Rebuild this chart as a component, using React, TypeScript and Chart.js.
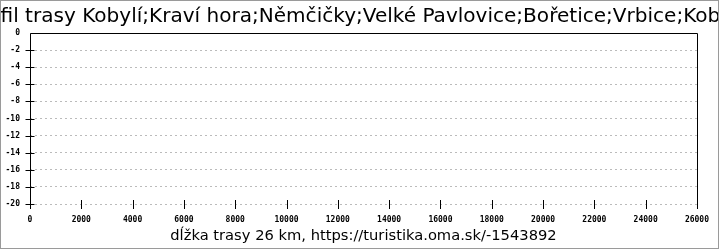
import React, { useEffect, useRef } from "react";
import { Chart, registerables } from "chart.js";

Chart.register(...registerables);

const chartTitle = "Profil trasy Kobylí;Kraví hora;Němčičky;Velké Pavlovice;Bořetice;Vrbice;Kobylí";
const xAxisTitle = "dĺžka trasy 26 km, https://turistika.oma.sk/-1543892";
const distances: number[] = [];
const elevations: number[] = [];
const xMin = 0;
const xMax = 26000;
const xStep = 2000;
const yMin = -20;
const yMax = 0;
const yStep = 2;

const framePlugin = {
  id: "frame",
  afterDraw(chart: any) {
    const { ctx, chartArea, scales } = chart;
    const { left, right, top, bottom } = chartArea;
    ctx.save();
    // title (overflows the frame on both sides, as in the original)
    ctx.save();
    ctx.beginPath();
    ctx.rect(1, 1, 717, 247);
    ctx.clip();
    ctx.fillStyle = "#000";
    ctx.textAlign = "left";
    ctx.textBaseline = "alphabetic";
    ctx.font = "20px 'DejaVu Sans'";
    const visible = chartTitle.slice(3, chartTitle.length - 3);
    const w20 = ctx.measureText(visible).width;
    const size = (20 * 720) / w20;
    ctx.font = `${size}px 'DejaVu Sans'`;
    const pre = ctx.measureText(chartTitle.slice(0, 3)).width;
    ctx.fillText(chartTitle, 0.5 - pre, 22);
    ctx.restore();
    // outer gray border
    ctx.strokeStyle = "#9a9a9a";
    ctx.lineWidth = 1;
    ctx.strokeRect(0.5, 0.5, 718, 248);
    // axis lines
    ctx.strokeStyle = "#000";
    ctx.lineWidth = 1;
    const L = Math.round(left) + 0.5;
    const R = Math.round(right) + 0.5;
    const T = Math.round(top) + 0.5;
    const B = Math.round(bottom);
    ctx.beginPath();
    ctx.moveTo(L, T);
    ctx.lineTo(R, T);
    ctx.moveTo(L, T);
    ctx.lineTo(L, B + 5);
    ctx.moveTo(R, T);
    ctx.lineTo(R, B + 5);
    scales.y.ticks.forEach((t: any) => {
      if (t.value === yMax) return;
      const py = Math.round(scales.y.getPixelForValue(t.value)) + 0.5;
      ctx.moveTo(L - 5, py);
      ctx.lineTo(L + 4, py);
    });
    scales.x.ticks.forEach((t: any) => {
      const px = Math.round(scales.x.getPixelForValue(t.value)) + 0.5;
      ctx.moveTo(px, B - 4);
      ctx.lineTo(px, B + 5);
    });
    ctx.stroke();
    ctx.restore();
  },
};

export default function App() {
  const ref = useRef<HTMLCanvasElement | null>(null);
  useEffect(() => {
    document.body.style.margin = "0";
    const canvas = ref.current!;
    const chart = new Chart(canvas, {
      type: "line",
      data: {
        datasets: [
          {
            data: distances.map((d, i) => ({ x: d, y: elevations[i] })),
            borderColor: "#000",
            borderWidth: 1,
            pointRadius: 0,
          },
        ],
      },
      options: {
        animation: false,
        responsive: false,
        devicePixelRatio: 1,
        layout: { padding: { top: 33, right: 15, left: 0, bottom: 0 } },
        plugins: { legend: { display: false }, tooltip: { enabled: false }, title: { display: false } },
        scales: {
          x: {
            type: "linear",
            min: xMin,
            max: xMax,
            afterFit: (s: any) => { s.height = 46; },
            ticks: {
              stepSize: xStep,
              maxRotation: 0,
              autoSkip: false,
              padding: 11,
              color: "#000",
              font: { family: "'DejaVu Sans Mono'", size: 8, weight: "bold" },
              callback: (v: any) => String(v),
            },
            grid: { display: false, drawTicks: false },
            border: { display: false },
            title: {
              display: true,
              text: xAxisTitle,
              color: "#000",
              font: { family: "'DejaVu Sans'", size: 14.7 },
              padding: { top: 0, bottom: 5 },
            },
          },
          y: {
            type: "linear",
            min: yMin,
            max: yMax,
            afterFit: (s: any) => { s.width = 30; },
            ticks: {
              stepSize: yStep,
              padding: 10,
              color: "#000",
              font: { family: "'DejaVu Sans Mono'", size: 8, weight: "bold" },
              callback: (v: any) => String(v),
            },
            grid: { color: "#bbbbbb", lineWidth: 1, drawTicks: false },
            border: { display: false, dash: [2, 3] },
          },
        },
      },
      plugins: [framePlugin],
    });
    return () => chart.destroy();
  }, []);
  return (
    <div style={{ position: "absolute", left: 0, top: 0, width: 720, height: 250 }}>
      <canvas ref={ref} width={720} height={250} style={{ width: 720, height: 250, display: "block" }} />
    </div>
  );
}
